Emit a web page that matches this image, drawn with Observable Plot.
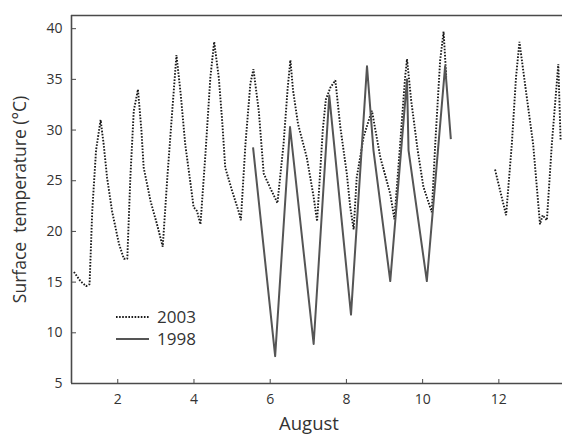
<!DOCTYPE html>
<html><head><meta charset="utf-8">
<script src="https://cdn.jsdelivr.net/npm/d3@7"></script>
<script src="https://cdn.jsdelivr.net/npm/@observablehq/plot@0.6"></script>
<style>
body{margin:0;background:#fff;}
#wrap{position:relative;width:562px;height:437px;font-family:"Open Sans",sans-serif;}
#legend{position:absolute;left:0;top:0;pointer-events:none;}
</style></head><body>
<div id="wrap"></div>
<script>
// August days and surface temperature (°C)
const days2003 = [0.85,1.02,1.17,1.26,1.33,1.43,1.55,1.63,1.72,1.85,2.03,2.16,2.25,2.33,2.42,2.53,2.62,2.68,2.86,3.03,3.18,3.30,3.43,3.54,3.65,3.77,3.91,3.99,4.08,4.17,4.30,4.43,4.53,4.65,4.74,4.82,5.00,5.17,5.23,5.35,5.48,5.56,5.70,5.83,6.00,6.19,6.35,6.46,6.53,6.60,6.73,6.96,7.14,7.23,7.38,7.46,7.58,7.71,7.84,8.01,8.10,8.19,8.27,8.45,8.58,8.67,8.89,9.15,9.26,9.41,9.54,9.59,9.70,9.87,10.02,10.24,10.33,10.46,10.55,10.62,11.2,11.90,12.19,12.34,12.45,12.54,12.72,12.90,13.08,13.15,13.26,13.39,13.56,13.62];
const temps2003 = [16.0,15.1,14.6,14.8,22.0,28.0,31.0,28.6,25.3,22.0,18.8,17.3,17.3,25.3,31.9,34.0,30.0,26.3,23.0,20.7,18.5,25.3,31.9,37.4,33.6,28.6,24.7,22.4,22.0,20.7,27.6,35.2,38.7,35.2,30.9,26.3,24.0,22.0,21.1,28.6,34.6,36.0,31.9,25.7,24.3,22.8,28.6,34.2,36.9,33.9,30.6,27.3,23.4,21.0,30.0,33.0,34.2,34.9,30.3,25.7,22.4,20.2,25.3,29.3,30.9,31.9,27.3,23.7,21.2,28.6,35.2,37.0,32.9,28.0,24.4,21.9,28.6,36.9,39.7,35.2,null,26.1,21.6,28.6,35.2,38.7,33.6,28.6,20.7,21.6,21.1,28.6,36.5,29.0];
const days1998 = [5.55,6.13,6.52,7.14,7.55,8.12,8.54,8.71,9.15,9.59,9.63,10.11,10.59,10.74];
const temps1998 = [28.3,7.7,30.3,8.9,33.4,11.8,36.3,28.0,15.1,35.0,28.0,15.1,36.3,29.1];
const xTicks = [2,4,6,8,10,12];
const yTicks = [5,10,15,20,25,30,35,40];
const seriesNames = ["2003","1998"];
const xLabel = "August";
const yLabel = "Surface\u00a0\u00a0temperature (°C)";

const d2003 = days2003.map((d,i)=>({day:d, t:temps2003[i]}));
const d1998 = days1998.map((d,i)=>({day:d, t:temps1998[i]}));
const xDomain = [0.786, 13.67];
const yDomain = [5, 41.3];
const axisColor = "#4a4a4a";
const font = "'Open Sans', sans-serif";

const chart = Plot.plot({
  width: 562, height: 437,
  marginLeft: 71, marginRight: 0, marginTop: 15, marginBottom: 54,
  x: {domain: xDomain},
  y: {domain: yDomain},
  style: {fontFamily: font, fontSize: "14px", color: "#333", background: "#fff", overflow: "visible"},
  marks: [
    Plot.ruleX([xDomain[0]], {stroke: axisColor, strokeWidth: 1.6}),
    Plot.ruleY([yDomain[0]], {stroke: axisColor, strokeWidth: 1.6}),
    Plot.ruleY([yDomain[1]], {stroke: axisColor, strokeWidth: 1.6}),
    Plot.axisY({ticks: yTicks, tickSize: -5, tickFormat: () => "", label: null, stroke: axisColor}),
    Plot.axisY({ticks: yTicks, tickSize: 0, tickPadding: 9, label: null, fill: "#333"}),
    Plot.axisX({ticks: xTicks, tickSize: -4, tickFormat: () => "", label: null, stroke: axisColor}),
    Plot.axisX({ticks: xTicks, tickSize: 0, tickPadding: 11, label: null, fill: "#333"}),
    Plot.line(d2003, {x: "day", y: "t", stroke: "#1a1a1a", strokeWidth: 1.9, strokeDasharray: "1.6,1.5", strokeLinecap: "butt", strokeLinejoin: "miter"}),
    Plot.line(d1998, {x: "day", y: "t", stroke: "#555", strokeWidth: 2, strokeLinecap: "butt"}),
    Plot.text([yLabel], {frameAnchor: "left", rotate: -90, textAnchor: "middle", dx: -51, fontSize: 17.5, fill: "#333"}),
    Plot.text([xLabel], {frameAnchor: "bottom", dy: 46, dx: -8, fontSize: 18.5, fill: "#333"})
  ]
});
const wrap = document.getElementById("wrap");
wrap.appendChild(chart);

// legend overlay
const ns = "http://www.w3.org/2000/svg";
const lg = document.createElementNS(ns, "svg");
lg.setAttribute("id", "legend");
lg.setAttribute("width", 562); lg.setAttribute("height", 437);
const legendRows = [
  {name: seriesNames[0], dash: "1.6,1.5", stroke: "#1a1a1a", w: 1.9, y: 317},
  {name: seriesNames[1], dash: null, stroke: "#555", w: 2, y: 339}
];
legendRows.forEach(r => {
  const l = document.createElementNS(ns, "line");
  l.setAttribute("x1", 116); l.setAttribute("x2", 149);
  l.setAttribute("y1", r.y); l.setAttribute("y2", r.y);
  l.setAttribute("stroke", r.stroke); l.setAttribute("stroke-width", r.w);
  if (r.dash) l.setAttribute("stroke-dasharray", r.dash);
  lg.appendChild(l);
  const t = document.createElementNS(ns, "text");
  t.setAttribute("x", 157); t.setAttribute("y", r.y + 6);
  t.setAttribute("font-family", font); t.setAttribute("font-size", 17);
  t.setAttribute("fill", "#333");
  t.textContent = r.name;
  lg.appendChild(t);
});
wrap.appendChild(lg);
</script>
</body></html>
